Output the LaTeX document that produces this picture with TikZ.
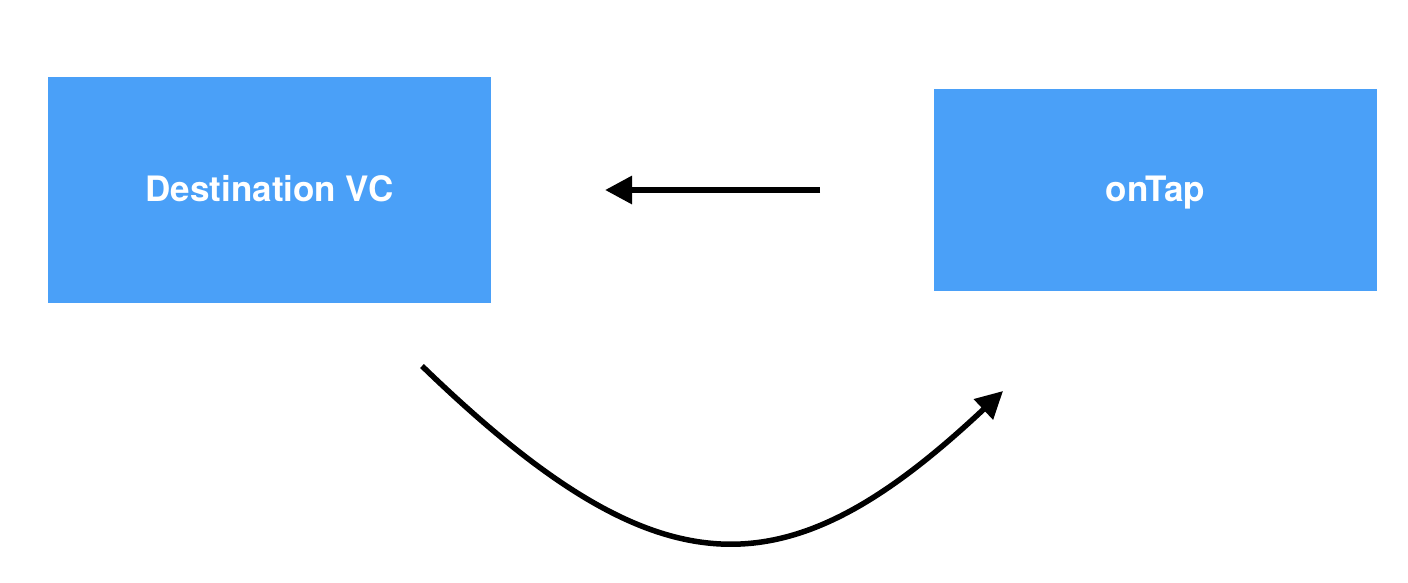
\documentclass[tikz,border=0pt]{standalone}
\usepackage{fontspec}
\setmainfont{TeX Gyre Heros}
\usetikzlibrary{arrows.meta}
\definecolor{boxblue}{RGB}{74,160,248}
\begin{document}
\begin{tikzpicture}[x=1pt,y=-1pt,
  bluebox/.style={fill=boxblue,draw=none,inner sep=0pt,text=white,text height=31pt,text depth=8pt,font=\fontsize{35}{40}\selectfont\bfseries},
  conn/.style={draw=black,line width=6pt,-{Triangle[length=27pt,width=27pt]}}]
\useasboundingbox (0,0) rectangle (1408,582);
\node[bluebox,minimum width=443pt,minimum height=226pt] (dest) at (269.5,190) {Destination VC};
\node[bluebox,minimum width=443pt,minimum height=202pt] (ontap) at (1155.5,190) {onTap};
\coordinate (a1s) at (820,190);
\coordinate (a1e) at (605,190);
\coordinate (a2s) at (422,366);
\coordinate (a2e) at (1003,391);
\draw[conn] (a1s) -- (a1e);
\draw[conn,line width=5.5pt] (a2s) .. controls (660,596) and (785,596) .. (a2e);
\end{tikzpicture}
\end{document}
